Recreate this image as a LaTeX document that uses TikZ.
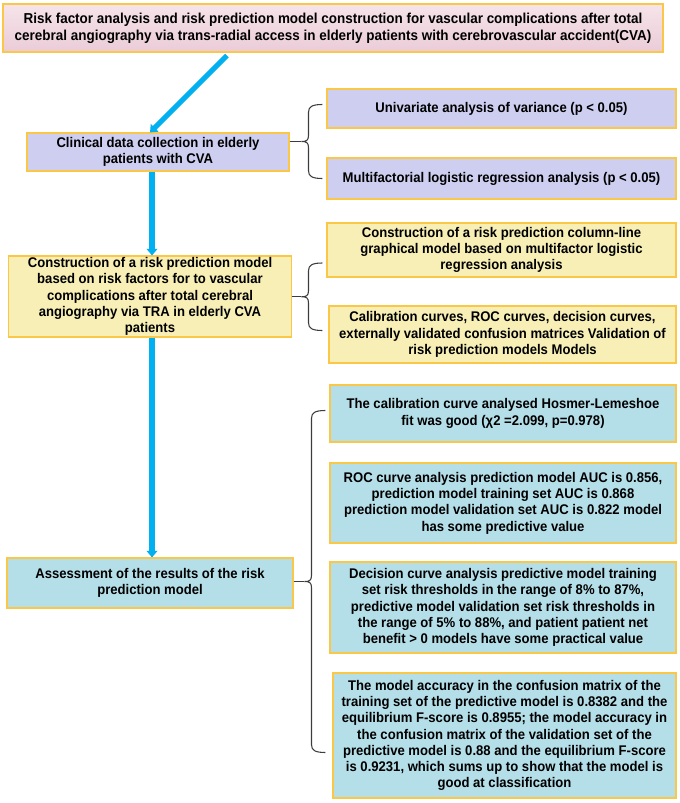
\documentclass[tikz,border=0pt]{standalone}
\usepackage{fontspec}
\setmainfont{Liberation Sans}[FakeStretch=0.935]
\usetikzlibrary{arrows.meta, calc}

\definecolor{fillLav}{RGB}{206,206,240}
\definecolor{fillYel}{RGB}{247,239,182}
\definecolor{fillBlue}{RGB}{180,222,232}
\definecolor{pinkTop}{RGB}{246,228,234}
\definecolor{pinkBot}{RGB}{234,204,215}
\definecolor{goldLine}{RGB}{250,200,70}
\definecolor{flowBlue}{RGB}{0,176,240}
\definecolor{braceGray}{RGB}{60,60,60}

\newdimen\px \px=0.75pt

% curly brace from #1 (top end) to #2 (bottom end), fed by node #3
\newcommand{\curlybrace}[3]{%
  \coordinate (tip#3) at ($(#1)!0.5!(#2)$);
  \draw[bracestroke] (#1) .. controls +(-10,0) and +(0,-6) .. ($(#1)+(-14,8)$)
    -- ($(tip#3)+(-14,-6)$) .. controls +(0,5) and +(5,0) .. ($(tip#3)+(-21,0)$)
    .. controls +(5,0) and +(0,-5) .. ($(tip#3)+(-14,6)$)
    -- ($(#2)+(-14,-8)$) .. controls +(0,6) and +(-10,0) .. (#2);
  \draw[bracestroke] (#3.east |- tip#3) -- ($(tip#3)+(-21,0)$);
}

\begin{document}
\begin{tikzpicture}[
    x=0.75pt, y=-0.75pt,
    every node/.style={font=\bfseries\fontsize{10.5}{12.2}\selectfont, align=center},
    basebox/.style={rectangle, draw=goldLine, line width=0.8pt, inner sep=0pt},
    lavbox/.style={basebox, fill=fillLav},
    yelbox/.style={basebox, fill=fillYel},
    bluebox/.style={basebox, fill=fillBlue},
    flow/.style={draw=flowBlue, line width=3.8pt, -{Triangle[width=8pt,length=5pt]}},
    bracestroke/.style={draw=braceGray, line width=0.8pt},
  ]
  \useasboundingbox (0,0) rectangle (680,803);

  % Left column
  \node [basebox, top color=pinkTop, bottom color=pinkBot, minimum width=660\px, minimum height=48\px,
         font=\bfseries\fontsize{10.8}{12.6}\selectfont] (title) at (333,28)
    {Risk factor analysis and risk prediction model construction for vascular complications after total\\
     cerebral angiography via trans-radial access in elderly patients with cerebrovascular accident(CVA)};
  \node [lavbox, minimum width=262\px, minimum height=38\px] (clin) at (158,152)
    {Clinical data collection in elderly\\patients with CVA};
  \node [yelbox, minimum width=283\px, minimum height=81\px] (constr) at (150,296.5)
    {Construction of a risk prediction model\\based on risk factors for to vascular\\complications after total cerebral\\angiography via TRA in elderly CVA\\patients};
  \node [bluebox, minimum width=286\px, minimum height=50\px] (assess) at (150,583)
    {Assessment of the results of the risk\\prediction model};

  % Right column
  \node [lavbox, minimum width=349\px, minimum height=39\px] (uni) at (501.5,108.5)
    {Univariate analysis of variance (p < 0.05)};
  \node [lavbox, minimum width=349\px, minimum height=41\px] (multi) at (501.5,178.5)
    {Multifactorial logistic regression analysis (p < 0.05)};
  \node [yelbox, minimum width=349\px, minimum height=54\px] (colline) at (501.5,250)
    {Construction of a risk prediction column-line\\graphical model based on multifactor logistic\\regression analysis};
  \node [yelbox, minimum width=347\px, minimum height=57\px] (calib) at (502.5,334.5)
    {Calibration curves, ROC curves, decision curves,\\externally validated confusion matrices Validation of\\risk prediction models Models};
  \node [bluebox, minimum width=346\px, minimum height=57\px] (calan) at (503,413.5)
    {The calibration curve analysed Hosmer-Lemeshoe\\fit was good (χ2 =2.099, p=0.978)};
  \node [bluebox, minimum width=346\px, minimum height=80\px] (roc) at (503,503)
    {ROC curve analysis prediction model AUC is 0.856,\\prediction model training set AUC is 0.868\\prediction model validation set AUC is 0.822 model\\has some predictive value};
  \node [bluebox, minimum width=346\px, minimum height=91\px] (dca) at (503,607.5)
    {Decision curve analysis predictive model training\\set risk thresholds in the range of 8\% to 87\%,\\predictive model validation set risk thresholds in\\the range of 5\% to 88\%, and patient patient net\\benefit > 0 models have some practical value};
  \node [bluebox, minimum width=343\px, minimum height=125\px] (model) at (504.5,735.5)
    {The model accuracy in the confusion matrix of the\\training set of the predictive model is 0.8382 and the\\equilibrium F-score is 0.8955; the model accuracy in\\the confusion matrix of the validation set of the\\predictive model is 0.88 and the equilibrium F-score\\is 0.9231, which sums up to show that the model is\\good at classification};

  % Arrows
  \draw [flow] ([xshift=-79.5pt,yshift=-2.25pt]title.south) -- ([xshift=-6pt]clin.north);
  \draw [flow] ($(constr.north |- clin.south)+(2,0)$) -- ($(constr.north)+(2,0)$);
  \draw [flow] ($(constr.south)+(2,0)$) -- ($(assess.north)+(2,0)$);

  % Braces
  \coordinate (b1a) at ($(uni.west)+(-4,-4)$);
  \coordinate (b1b) at (b1a |- multi.west);
  \curlybrace{b1a}{b1b}{clin}
  \coordinate (b2a) at ($(colline.west)+(-4,13)$);
  \coordinate (b2b) at ($(b2a |- calib.west)+(0,-4)$);
  \curlybrace{b2a}{b2b}{constr}
  \coordinate (b3a) at ($(calan.west)+(-4,-3)$);
  \coordinate (b3b) at ($(b3a |- model.west)+(0,17)$);
  \curlybrace{b3a}{b3b}{assess}

\end{tikzpicture}
\end{document}
